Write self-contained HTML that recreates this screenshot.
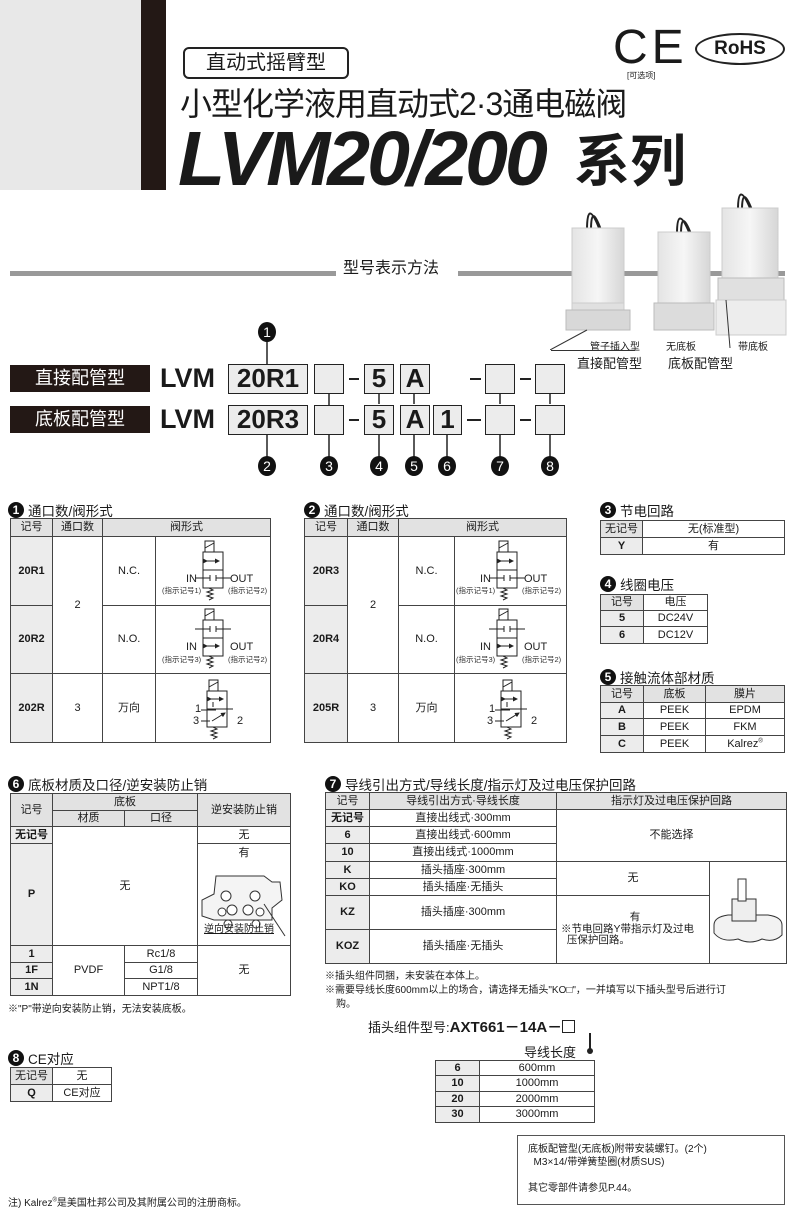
<!DOCTYPE html>
<html><head><meta charset="utf-8">
<style>
*{margin:0;padding:0;box-sizing:border-box}
body{width:790px;height:1208px;position:relative;background:#fff;font-family:"Liberation Sans","Noto Sans CJK SC",sans-serif;color:#1a1a1a;overflow:hidden}
.a{position:absolute;white-space:nowrap}
table{position:absolute;border-collapse:collapse;table-layout:fixed;font-size:11px}
td{border:1px solid #444;text-align:center;vertical-align:middle;padding:0;line-height:1.1}
.h{background:#e2e2e2}
.k{background:#ececec;font-weight:bold}
.t{position:absolute;font-size:13.5px;white-space:nowrap;display:flex;align-items:center;gap:4px}
.c{display:inline-block;width:16px;height:16px;border-radius:50%;background:#111;color:#fff;font-size:12px;font-weight:bold;text-align:center;line-height:16px;font-family:"Liberation Sans",sans-serif}
.cn{position:absolute;width:18px;height:20px;border-radius:50%;background:#111;color:#fff;font-size:14px;text-align:center;line-height:20px;font-family:"Liberation Sans",sans-serif}
.bx{position:absolute;border:1px solid #222;background:#ececec;font-weight:bold;font-size:26px;text-align:center;line-height:27px;font-family:"Liberation Sans",sans-serif}
.lab{position:absolute;background:#231815;color:#fff;font-size:18px;text-align:center;line-height:27px;width:140px;height:27px;left:10px}
</style></head><body>

<!-- header -->
<div class="a" style="left:0;top:0;width:141px;height:190px;background:#e8e8e8"></div>
<div class="a" style="left:141px;top:0;width:25px;height:190px;background:#231815"></div>
<div class="a" style="left:183px;top:47px;width:166px;height:32px;border:2px solid #222;border-radius:6px;font-size:20px;text-align:center;line-height:28px">直动式摇臂型</div>
<div class="a" style="left:180px;top:83px;font-size:32px;line-height:42px;letter-spacing:-1px">小型化学液用直动式2·3通电磁阀</div>
<div class="a" style="left:178px;top:116px;font-size:77px;line-height:86px;font-weight:bold;font-style:italic;letter-spacing:-3px">LVM20/200</div>
<div class="a" style="left:574px;top:130px;font-size:56px;line-height:64px;font-weight:bold">系列</div>
<div class="a" style="left:613px;top:22px;font-size:48px;line-height:52px;letter-spacing:4px;font-family:'Liberation Sans',sans-serif">CE</div>
<div class="a" style="left:627px;top:70px;font-size:8px">[可选项]</div>
<div class="a" style="left:695px;top:33px;width:90px;height:32px;border:2px solid #222;border-radius:50%;font-size:19px;font-weight:bold;text-align:center;line-height:28px">RoHS</div>

<!-- section line -->
<div class="a" style="left:10px;top:271px;width:775px;height:5px;background:#999"></div>
<div class="a" style="left:336px;top:252px;width:122px;height:24px;background:#fff"></div>
<div class="a" style="left:343px;top:254px;font-size:16px">型号表示方法</div>

<!-- products -->
<svg class="a" style="left:550px;top:190px" width="240" height="160">
<defs><linearGradient id="g" x1="0" x2="1"><stop offset="0" stop-color="#e4e4e4"/><stop offset=".5" stop-color="#f6f6f6"/><stop offset="1" stop-color="#d6d6d6"/></linearGradient></defs>
<path d="M37 40 q0 -32 12 -2 M41 40 q0 -28 10 0" stroke="#222" stroke-width="2" fill="none"/>
<rect x="22" y="38" width="52" height="75" fill="url(#g)" stroke="#ccc"/>
<rect x="22" y="113" width="52" height="22" fill="#e0e0e0" stroke="#ccc"/>
<rect x="16" y="120" width="64" height="20" fill="#d8d8d8" stroke="#bbb"/>
<path d="M127 44 q0 -30 12 -2 M131 44 q0 -26 10 0" stroke="#222" stroke-width="2" fill="none"/>
<rect x="108" y="42" width="52" height="72" fill="url(#g)" stroke="#ccc"/>
<rect x="104" y="113" width="60" height="27" fill="#dcdcdc" stroke="#bbb"/>
<path d="M188 20 q0 -30 12 -2 M192 20 q0 -26 10 0" stroke="#222" stroke-width="2" fill="none"/>
<rect x="172" y="18" width="56" height="72" fill="url(#g)" stroke="#ccc"/>
<rect x="168" y="88" width="66" height="28" fill="#e0e0e0" stroke="#bbb"/>
<path d="M166 110 h70 v35 h-70 z" fill="#ededed" stroke="#ccc"/>
<line x1="0" y1="160" x2="37" y2="140" stroke="#333"/>
<line x1="176" y1="110" x2="180" y2="158" stroke="#333"/>
</svg>
<div class="a" style="left:590px;top:338px;font-size:10px">管子插入型</div>
<div class="a" style="left:666px;top:338px;font-size:10px">无底板</div>
<div class="a" style="left:738px;top:338px;font-size:10px">带底板</div>
<div class="a" style="left:551px;top:350px;width:84px;height:1px;background:#333"></div>
<div class="a" style="left:577px;top:353px;font-size:13px">直接配管型</div>
<div class="a" style="left:668px;top:353px;font-size:13px">底板配管型</div>

<!-- order code -->
<svg class="a" style="left:0;top:320px" width="600" height="160">
<g stroke="#222" stroke-width="1.5">
<line x1="267" y1="20" x2="267" y2="44"/>
<line x1="267" y1="115" x2="267" y2="138"/>
<line x1="329" y1="74" x2="329" y2="138"/>
<line x1="379" y1="74" x2="379" y2="84"/><line x1="379" y1="115" x2="379" y2="138"/>
<line x1="414" y1="74" x2="414" y2="84"/><line x1="414" y1="115" x2="414" y2="138"/>
<line x1="447" y1="115" x2="447" y2="138"/>
<line x1="500" y1="74" x2="500" y2="84"/><line x1="500" y1="115" x2="500" y2="138"/>
<line x1="550" y1="74" x2="550" y2="84"/><line x1="550" y1="115" x2="550" y2="138"/>
</g>
<g stroke="#222" stroke-width="2">
<line x1="349" y1="59" x2="359" y2="59"/><line x1="470" y1="59" x2="481" y2="59"/><line x1="520" y1="59" x2="531" y2="59"/>
<line x1="349" y1="100" x2="359" y2="100"/><line x1="467" y1="100" x2="481" y2="100"/><line x1="520" y1="100" x2="531" y2="100"/>
</g>
</svg>
<div class="cn" style="left:258px;top:322px">1</div>
<div class="lab" style="top:365px">直接配管型</div>
<div class="lab" style="top:406px">底板配管型</div>
<div class="a" style="left:160px;top:363px;font-size:27px;font-weight:bold;line-height:30px">LVM</div>
<div class="a" style="left:160px;top:404px;font-size:27px;font-weight:bold;line-height:30px">LVM</div>
<div class="bx" style="left:228px;top:364px;width:80px;height:30px">20R1</div>
<div class="bx" style="left:314px;top:364px;width:30px;height:30px"></div>
<div class="bx" style="left:364px;top:364px;width:30px;height:30px">5</div>
<div class="bx" style="left:400px;top:364px;width:30px;height:30px">A</div>
<div class="bx" style="left:485px;top:364px;width:30px;height:30px"></div>
<div class="bx" style="left:535px;top:364px;width:30px;height:30px"></div>
<div class="bx" style="left:228px;top:405px;width:80px;height:30px">20R3</div>
<div class="bx" style="left:314px;top:405px;width:30px;height:30px"></div>
<div class="bx" style="left:364px;top:405px;width:30px;height:30px">5</div>
<div class="bx" style="left:400px;top:405px;width:30px;height:30px">A</div>
<div class="bx" style="left:433px;top:405px;width:29px;height:30px">1</div>
<div class="bx" style="left:485px;top:405px;width:30px;height:30px"></div>
<div class="bx" style="left:535px;top:405px;width:30px;height:30px"></div>
<div class="cn" style="left:258px;top:456px">2</div>
<div class="cn" style="left:320px;top:456px">3</div>
<div class="cn" style="left:370px;top:456px">4</div>
<div class="cn" style="left:405px;top:456px">5</div>
<div class="cn" style="left:438px;top:456px">6</div>
<div class="cn" style="left:491px;top:456px">7</div>
<div class="cn" style="left:541px;top:456px">8</div>

<!-- table 1 -->
<div class="t" style="left:8px;top:500px"><span class="c">1</span>通口数/阀形式</div>
<table style="left:10px;top:518px;width:260px">
<col style="width:42px"><col style="width:50px"><col style="width:53px"><col style="width:115px">
<tr style="height:18px"><td class="h">记号</td><td class="h">通口数</td><td class="h" colspan="2">阀形式</td></tr>
<tr style="height:69px"><td class="k">20R1</td><td rowspan="2">2</td><td>N.C.</td><td></td></tr>
<tr style="height:68px"><td class="k">20R2</td><td>N.O.</td><td></td></tr>
<tr style="height:69px"><td class="k">202R</td><td>3</td><td>万向</td><td></td></tr>
</table>
<!-- table 2 -->
<div class="t" style="left:304px;top:500px"><span class="c">2</span>通口数/阀形式</div>
<table style="left:304px;top:518px;width:262px">
<col style="width:43px"><col style="width:51px"><col style="width:56px"><col style="width:112px">
<tr style="height:18px"><td class="h">记号</td><td class="h">通口数</td><td class="h" colspan="2">阀形式</td></tr>
<tr style="height:69px"><td class="k">20R3</td><td rowspan="2">2</td><td>N.C.</td><td></td></tr>
<tr style="height:68px"><td class="k">20R4</td><td>N.O.</td><td></td></tr>
<tr style="height:69px"><td class="k">205R</td><td>3</td><td>万向</td><td></td></tr>
</table>

<svg class="a" style="left:0;top:0" width="790" height="760">
<defs>
<marker id="ah" markerWidth="5" markerHeight="5" refX="4" refY="2.5" orient="auto"><path d="M0 0 L5 2.5 L0 5z" fill="#222"/></marker>
<g id="sol" stroke="#222" fill="none" stroke-width="1"><rect x="2" y="-11" width="9" height="11"/><line x1="2" y1="-4" x2="11" y2="-9"/><path d="M6 36 l4 2 l-6 2 l6 2 l-6 2 l6 2 l-4 2"/><rect x="0" y="0" width="20" height="36"/><line x1="0" y1="18" x2="20" y2="18"/></g>
<g id="arr" stroke="#222" stroke-width="1"><line x1="4" y1="0" x2="16" y2="0" marker-end="url(#ah)" marker-start="url(#ah)"/></g>
<g id="blk" stroke="#222" stroke-width="1"><line x1="-8" y1="0" x2="7" y2="0"/><line x1="13" y1="0" x2="28" y2="0"/><line x1="7" y1="-3" x2="7" y2="3"/><line x1="13" y1="-3" x2="13" y2="3"/></g>
<g id="nc"><use href="#sol"/><use href="#arr" y="9"/><use href="#blk" y="26"/></g>
<g id="no"><use href="#sol"/><use href="#blk" y="9"/><use href="#arr" y="26"/></g>
<g id="w3"><use href="#sol"/><use href="#arr" y="8"/><g stroke="#222"><line x1="6" y1="11" x2="6" y2="16"/><line x1="-6" y1="19" x2="6" y2="19"/><line x1="3" y1="19" x2="9" y2="19"/><line x1="14" y1="18" x2="26" y2="18"/><line x1="-6" y1="30" x2="3" y2="30"/><line x1="5" y1="30" x2="18" y2="22" marker-end="url(#ah)"/></g></g>
</defs>
<use href="#nc" x="203" y="552"/><use href="#no" x="203" y="620"/><use href="#w3" x="207" y="691"/>
<use href="#nc" x="497" y="552"/><use href="#no" x="497" y="620"/><use href="#w3" x="501" y="691"/>
<g font-size="11" fill="#222" font-family="Liberation Sans,sans-serif">
<text x="186" y="582">IN</text><text x="230" y="582">OUT</text><text x="186" y="650">IN</text><text x="230" y="650">OUT</text>
<text x="195" y="712">1</text><text x="193" y="724">3</text><text x="237" y="724">2</text>
<text x="480" y="582">IN</text><text x="524" y="582">OUT</text><text x="480" y="650">IN</text><text x="524" y="650">OUT</text>
<text x="489" y="712">1</text><text x="487" y="724">3</text><text x="531" y="724">2</text>
</g>
<g font-size="7.5" fill="#333" font-family="Liberation Sans,Noto Sans CJK SC,sans-serif">
<text x="162" y="593">(指示记号1)</text><text x="228" y="593">(指示记号2)</text><text x="162" y="662">(指示记号3)</text><text x="228" y="662">(指示记号2)</text>
<text x="456" y="593">(指示记号1)</text><text x="522" y="593">(指示记号2)</text><text x="456" y="662">(指示记号3)</text><text x="522" y="662">(指示记号2)</text>
</g>
</svg>

<!-- table 3 -->
<div class="t" style="left:600px;top:500px"><span class="c">3</span>节电回路</div>
<table style="left:600px;top:520px;width:185px">
<col style="width:42px"><col>
<tr style="height:17px"><td class="h">无记号</td><td>无(标准型)</td></tr>
<tr style="height:17px"><td class="k">Y</td><td>有</td></tr>
</table>
<!-- table 4 -->
<div class="t" style="left:600px;top:574px"><span class="c">4</span>线圈电压</div>
<table style="left:600px;top:594px;width:108px">
<col style="width:43px"><col>
<tr style="height:16px"><td class="h">记号</td><td>电压</td></tr>
<tr style="height:16px"><td class="k">5</td><td>DC24V</td></tr>
<tr style="height:17px"><td class="k">6</td><td>DC12V</td></tr>
</table>
<!-- table 5 -->
<div class="t" style="left:600px;top:667px"><span class="c">5</span>接触流体部材质</div>
<table style="left:600px;top:685px;width:185px">
<col style="width:43px"><col style="width:62px"><col>
<tr style="height:17px"><td class="h">记号</td><td class="h">底板</td><td class="h">膜片</td></tr>
<tr style="height:16px"><td class="k">A</td><td>PEEK</td><td>EPDM</td></tr>
<tr style="height:17px"><td class="k">B</td><td>PEEK</td><td>FKM</td></tr>
<tr style="height:17px"><td class="k">C</td><td>PEEK</td><td>Kalrez<sup style="font-size:6px">®</sup></td></tr>
</table>

<!-- table 6 -->
<div class="t" style="left:8px;top:774px"><span class="c">6</span>底板材质及口径/逆安装防止销</div>
<table style="left:10px;top:793px;width:281px">
<col style="width:42px"><col style="width:72px"><col style="width:73px"><col>
<tr style="height:17px"><td class="h" rowspan="2">记号</td><td class="h" colspan="2">底板</td><td class="h" rowspan="2">逆安装防止销</td></tr>
<tr style="height:16px"><td class="h">材质</td><td class="h">口径</td></tr>
<tr style="height:17px"><td class="k">无记号</td><td colspan="2" rowspan="2">无</td><td>无</td></tr>
<tr style="height:102px"><td class="k">P</td><td style="vertical-align:top;position:relative;padding-top:3px">有
<svg style="position:absolute;left:2px;top:22px" width="90" height="75">
<path d="M16 10 h48 l8 6 h8 l2 18 l-10 8 v12 h-58 l-12 -4 v-16 l12 -6z" fill="#f4f4f4" stroke="#333"/>
<g fill="#fff" stroke="#333"><circle cx="26" cy="30" r="5"/><circle cx="55" cy="30" r="5"/><circle cx="32" cy="44" r="5"/><circle cx="48" cy="44" r="5"/><circle cx="22" cy="46" r="4"/><circle cx="60" cy="46" r="4"/><circle cx="28" cy="58" r="4"/><circle cx="56" cy="58" r="4"/></g>
<line x1="64" y1="38" x2="85" y2="70" stroke="#333"/></svg>
<div style="position:absolute;left:6px;top:80px;font-size:10px;text-decoration:underline">逆向安装防止销</div></td></tr>
<tr style="height:17px"><td class="k">1</td><td rowspan="3">PVDF</td><td>Rc1/8</td><td rowspan="3">无</td></tr>
<tr style="height:16px"><td class="k">1F</td><td>G1/8</td></tr>
<tr style="height:17px"><td class="k">1N</td><td>NPT1/8</td></tr>
</table>
<div class="a" style="left:8px;top:1000px;font-size:10px">※"P"带逆向安装防止销，无法安装底板。</div>

<!-- table 7 -->
<div class="t" style="left:325px;top:774px"><span class="c">7</span>导线引出方式/导线长度/指示灯及过电压保护回路</div>
<table style="left:325px;top:792px;width:462px">
<col style="width:44px"><col style="width:187px"><col style="width:153px"><col>
<tr style="height:17px"><td class="h">记号</td><td class="h">导线引出方式·导线长度</td><td class="h" colspan="2">指示灯及过电压保护回路</td></tr>
<tr style="height:17px"><td class="k">无记号</td><td>直接出线式·300mm</td><td colspan="2" rowspan="3">不能选择</td></tr>
<tr style="height:17px"><td class="k">6</td><td>直接出线式·600mm</td></tr>
<tr style="height:18px"><td class="k">10</td><td>直接出线式·1000mm</td></tr>
<tr style="height:17px"><td class="k">K</td><td>插头插座·300mm</td><td rowspan="2">无</td><td rowspan="4" style="position:relative">
<svg width="76" height="80" style="display:block;margin:auto"><path d="M4 52 q0 -8 14 -10 h40 q14 2 14 10 v10 q-8 8 -20 4 q-12 6 -24 0 q-16 4 -24 -6z" fill="#f2f2f2" stroke="#333"/><rect x="22" y="26" width="24" height="22" fill="#eee" stroke="#333"/><rect x="28" y="6" width="8" height="22" fill="#fff" stroke="#333"/></svg></td></tr>
<tr style="height:17px"><td class="k">KO</td><td>插头插座·无插头</td></tr>
<tr style="height:34px"><td class="k">KZ</td><td>插头插座·300mm</td><td rowspan="2" style="text-align:left;padding-left:4px;font-size:10.5px"><div style="text-align:center">有</div>※节电回路Y带指示灯及过电<br>&nbsp;&nbsp;压保护回路。</td></tr>
<tr style="height:34px"><td class="k">KOZ</td><td>插头插座·无插头</td></tr>
</table>
<div class="a" style="left:325px;top:967px;font-size:10px">※插头组件同捆，未安装在本体上。</div>
<div class="a" style="left:325px;top:981px;font-size:10px">※需要导线长度600mm以上的场合，请选择无插头"KO□"，一并填写以下插头型号后进行订</div>
<div class="a" style="left:336px;top:995px;font-size:10px">购。</div>
<div class="a" style="left:368px;top:1016px;font-size:13px"><span>插头组件型号:</span><b style="font-size:15px">AXT661－14A－</b><span style="display:inline-block;width:13px;height:13px;border:1px solid #222;vertical-align:-1px"></span></div>
<div class="a" style="left:589px;top:1033px;width:2px;height:18px;background:#222"></div>
<div class="a" style="left:587px;top:1048px;width:6px;height:6px;border-radius:50%;background:#222"></div>
<div class="a" style="left:524px;top:1042px;font-size:13px">导线长度</div>
<table style="left:435px;top:1060px;width:160px">
<col style="width:44px"><col>
<tr style="height:15px"><td class="k">6</td><td>600mm</td></tr>
<tr style="height:16px"><td class="k">10</td><td>1000mm</td></tr>
<tr style="height:15px"><td class="k">20</td><td>2000mm</td></tr>
<tr style="height:16px"><td class="k">30</td><td>3000mm</td></tr>
</table>

<!-- table 8 -->
<div class="t" style="left:8px;top:1048px"><span class="c">8</span>CE对应</div>
<table style="left:10px;top:1067px;width:102px">
<col style="width:42px"><col>
<tr style="height:17px"><td class="h">无记号</td><td>无</td></tr>
<tr style="height:17px"><td class="k">Q</td><td>CE对应</td></tr>
</table>

<div class="a" style="left:517px;top:1135px;width:268px;height:70px;border:1px solid #555;font-size:10px;padding:7px 0 0 10px;line-height:13px">底板配管型(无底板)附带安装螺钉。(2个)<br>&nbsp;&nbsp;M3×14/带弹簧垫圈(材质SUS)<br><br>其它零部件请参见P.44。</div>
<div class="a" style="left:8px;top:1194px;font-size:10px">注) Kalrez<sup style="font-size:6px">®</sup>是美国杜邦公司及其附属公司的注册商标。</div>
</body></html>
